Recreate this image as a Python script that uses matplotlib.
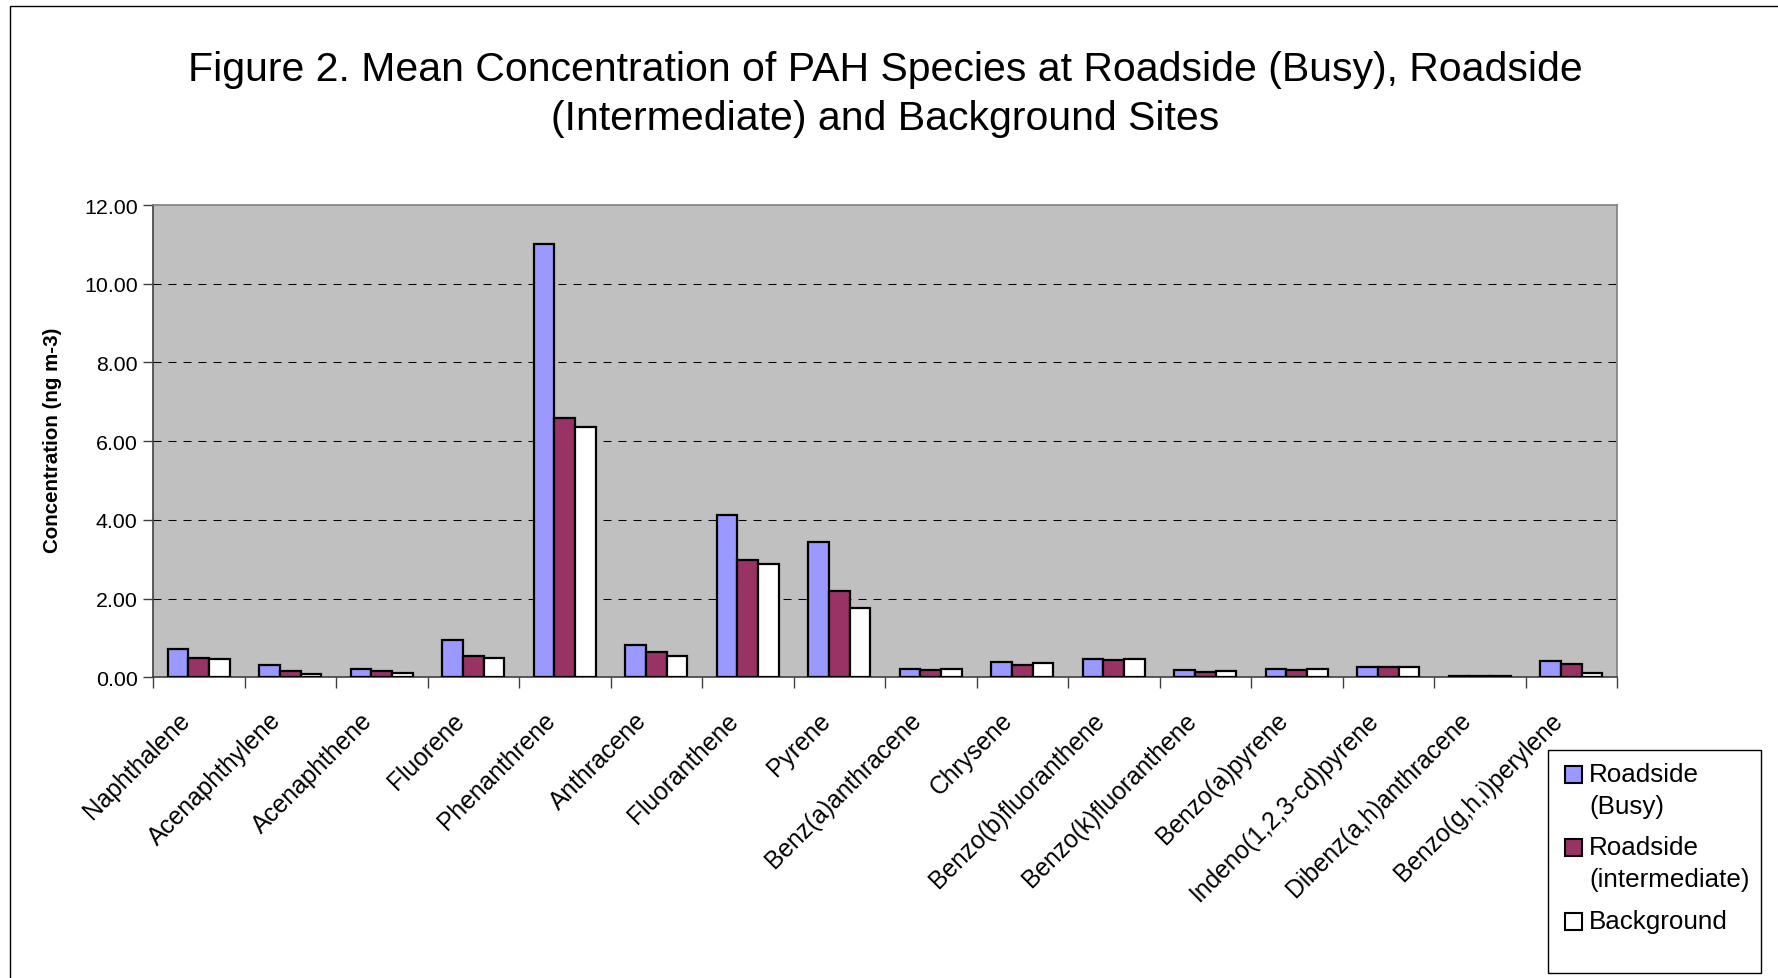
import numpy as np
import matplotlib.pyplot as plt
from matplotlib.patches import Rectangle
from matplotlib.ticker import FixedLocator, FormatStrFormatter
from matplotlib.transforms import ScaledTranslation

plt.rcParams['font.family'] = ['Liberation Sans', 'DejaVu Sans']

# mean PAH concentrations, ng m-3
species = ['Naphthalene', 'Acenaphthylene', 'Acenaphthene', 'Fluorene',
           'Phenanthrene', 'Anthracene', 'Fluoranthene', 'Pyrene',
           'Benz(a)anthracene', 'Chrysene', 'Benzo(b)fluoranthene',
           'Benzo(k)fluoranthene', 'Benzo(a)pyrene', 'Indeno(1,2,3-cd)pyrene',
           'Dibenz(a,h)anthracene', 'Benzo(g,h,i)perylene']
busy = [0.71, 0.32, 0.22, 0.96, 11.00, 0.82, 4.12, 3.43,
        0.22, 0.39, 0.47, 0.18, 0.21, 0.27, 0.03, 0.42]
intermediate = [0.48, 0.17, 0.15, 0.54, 6.59, 0.64, 2.98, 2.20,
                0.18, 0.32, 0.43, 0.14, 0.18, 0.25, 0.03, 0.33]
background = [0.46, 0.09, 0.11, 0.49, 6.35, 0.54, 2.88, 1.76,
              0.21, 0.36, 0.47, 0.16, 0.20, 0.25, 0.03, 0.12]
series_names = ['Roadside\n(Busy)', 'Roadside\n(intermediate)', 'Background']
series_colors = ['#9999FF', '#993366', '#FFFFFF']
yticks = [0, 2, 4, 6, 8, 10, 12]

W, H = 1778, 979
fig = plt.figure(figsize=(W / 100, H / 100), dpi=100)
fig.patch.set_facecolor('white')

# outer chart border (only left/top fall inside the image)
fig.patches.append(Rectangle((10 / W, -1), 2, 1 + (1 - 7 / H), transform=fig.transFigure,
                             fill=False, edgecolor='black', lw=1.0))

ax = fig.add_axes([153 / W, 1 - 678.3 / H, (1617 - 153) / W, (678.3 - 206) / H])
ax.set_facecolor('#C0C0C0')

x = np.arange(len(species))
w = 0.225
for k, (vals, col) in enumerate(zip([busy, intermediate, background], series_colors)):
    ax.bar(x + (k - 1) * w, vals, width=w, color=col, edgecolor='black',
           linewidth=1.6, zorder=3)

ax.set_xlim(-0.5, len(species) - 0.5)
ax.set_ylim(yticks[0], yticks[-1])
ax.hlines(yticks[1:-1], -0.5, len(species) - 0.5, colors='black',
          linestyles=(0, (7.7, 6.7)), linewidth=0.75, zorder=1)

ax.yaxis.set_major_locator(FixedLocator(yticks))
ax.yaxis.set_major_formatter(FormatStrFormatter('%.2f'))
ax.tick_params(axis='y', direction='out', length=7, width=1, color='#404040',
               labelsize=15.4, pad=4)

# category boundaries carry the tick marks, labels sit on the centres
ax.xaxis.set_major_locator(FixedLocator(np.arange(len(species) + 1) - 0.5))
ax.xaxis.set_major_formatter(plt.NullFormatter())
ax.xaxis.set_minor_locator(FixedLocator(x))
ax.set_xticklabels(species, minor=True, rotation=45, ha='right', va='center',
                   rotation_mode='anchor', fontsize=17.7)
ax.tick_params(axis='x', which='major', direction='out', length=8, width=1,
               color='#404040')
ax.tick_params(axis='x', which='minor', length=0, pad=28)
shift = ScaledTranslation(-0.13, 0, fig.dpi_scale_trans)
for lab in ax.get_xticklabels(minor=True):
    lab.set_transform(lab.get_transform() + shift)

for s in ['left', 'bottom']:
    ax.spines[s].set_color('#404040')
    ax.spines[s].set_linewidth(1.2)
for s in ['top', 'right']:
    ax.spines[s].set_color('#808080')
    ax.spines[s].set_linewidth(1.2)

ax.set_ylabel('Concentration (ng m-3)', fontsize=14.8, fontweight='bold')
ax.yaxis.set_label_coords((62 - 153) / (1617 - 153), 0.503)

fig.text(885 / W, 1 - 70 / H,
         'Figure 2. Mean Concentration of PAH Species at Roadside (Busy), Roadside',
         ha='center', va='center', fontsize=29.5)
fig.text(885 / W, 1 - 119 / H, '(Intermediate) and Background Sites',
         ha='center', va='center', fontsize=29.5)

# legend box
fig.patches.append(Rectangle((1548 / W, 1 - 974 / H), (1761 - 1548) / W, (974 - 751) / H,
                             transform=fig.transFigure, facecolor='white',
                             edgecolor='black', lw=1.0))
entry_y = [775, 848, 922]
for name, col, y0 in zip(series_names, series_colors, entry_y):
    fig.patches.append(Rectangle((1565 / W, 1 - (y0 + 8.5) / H), 17 / W, 17 / H,
                                 transform=fig.transFigure, facecolor=col,
                                 edgecolor='black', lw=1.5))
    for j, line in enumerate(name.split('\n')):
        fig.text(1589 / W, 1 - (y0 + 32 * j) / H, line, ha='left', va='center',
                 fontsize=18.7)

fig.savefig('out.png', dpi=100)
